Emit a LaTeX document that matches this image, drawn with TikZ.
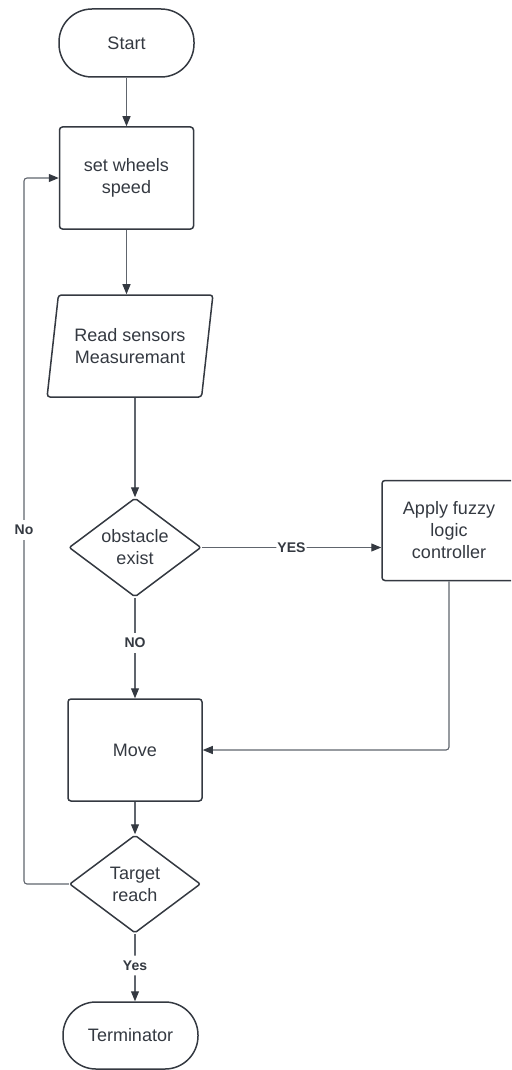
\documentclass[tikz,border=0pt]{standalone}
\usepackage{fontspec}
\setmainfont{Liberation Sans}
\usetikzlibrary{arrows.meta}
\usetikzlibrary{shapes}

\definecolor{inkgray}{RGB}{52,57,65}
\definecolor{wiregray}{RGB}{96,101,109}

\begin{document}
\begin{tikzpicture}[x = 100pt, y = -100pt]
	\tikzstyle{terminalStyle}=[rectangle, rounded corners = 33pt, minimum width = 135pt, minimum height = 68pt, draw = inkgray, line width = 1.5pt, text = inkgray, font = \fontsize{18}{22}\selectfont, align = center]
	\tikzstyle{processStyle}=[rectangle, rounded corners = 3pt, minimum width = 134pt, minimum height = 102pt, draw = inkgray, line width = 1.5pt, text = inkgray, font = \fontsize{18}{22}\selectfont, align = center]
	\tikzstyle{dataStyle}=[trapezium, trapezium left angle = 76, trapezium right angle = 104, trapezium stretches = true, rounded corners = 3pt, minimum width = 166pt, minimum height = 102pt, inner sep = 0pt, draw = inkgray, line width = 1.5pt, text = inkgray, font = \fontsize{18}{22}\selectfont, align = center]
	\tikzstyle{decisionStyle}=[diamond, shape aspect = 1.33, rounded corners = 2pt, minimum width = 132pt, minimum height = 99pt, inner sep = 0pt, draw = inkgray, line width = 1.5pt, text = inkgray, font = \fontsize{18}{22}\selectfont, align = center]
	\tikzstyle{flowStyle}=[draw = wiregray, line width = 1.1pt, rounded corners = 3pt, -{Triangle[length = 10pt, width = 8pt, color = inkgray]}]
	\tikzstyle{branchStyle}=[fill = white, text = inkgray, inner xsep = 1pt, inner ysep = 5pt, font = \fontsize{14}{16}\selectfont\bfseries]
	\clip (0, 0) rectangle (5.11, 10.70);
	\node[terminalStyle] (start) at (1.265, 0.430) {Start};
	\node[processStyle] (wheels) at (1.265, 1.780) {set wheels\\speed};
	\node[dataStyle] (sensors) at (1.300, 3.460) {Read sensors\\Measuremant};
	\node[decisionStyle] (obstacle) at (1.350, 5.475) {obstacle\\exist};
	\node[processStyle, minimum height = 100pt] (fuzzy) at (4.490, 5.305) {Apply fuzzy\\logic\\controller};
	\node[processStyle] (move) at (1.350, 7.500) {Move};
	\node[decisionStyle, minimum width = 131pt, minimum height = 98pt] (target) at (1.350, 8.840) {Target\\reach};
	\node[terminalStyle, minimum height = 67pt] (stop) at (1.305, 10.355) {Terminator};
	\coordinate (back) at (0.240, 5.300);
	\draw[flowStyle] (start) -- (wheels);
	\draw[flowStyle] (wheels.south) -- (wheels.south |- sensors.north);
	\draw[flowStyle] (obstacle.north |- sensors.south) -- (obstacle.north);
	\draw[flowStyle] (obstacle.east) -- node[branchStyle] {YES} (obstacle.east -| fuzzy.west);
	\draw[flowStyle] (obstacle) -- node[branchStyle, pos = 0.45] {NO} (move);
	\draw[flowStyle] (fuzzy.south) |- (move.east);
	\draw[flowStyle] (move) -- (target);
	\draw[flowStyle] (target.south) -- node[branchStyle, pos = 0.47] {Yes} (target.south |- stop.north);
	\draw[flowStyle] (target.west) -| (back) node[branchStyle] {No} |- (wheels.west);
\end{tikzpicture}
\end{document}
